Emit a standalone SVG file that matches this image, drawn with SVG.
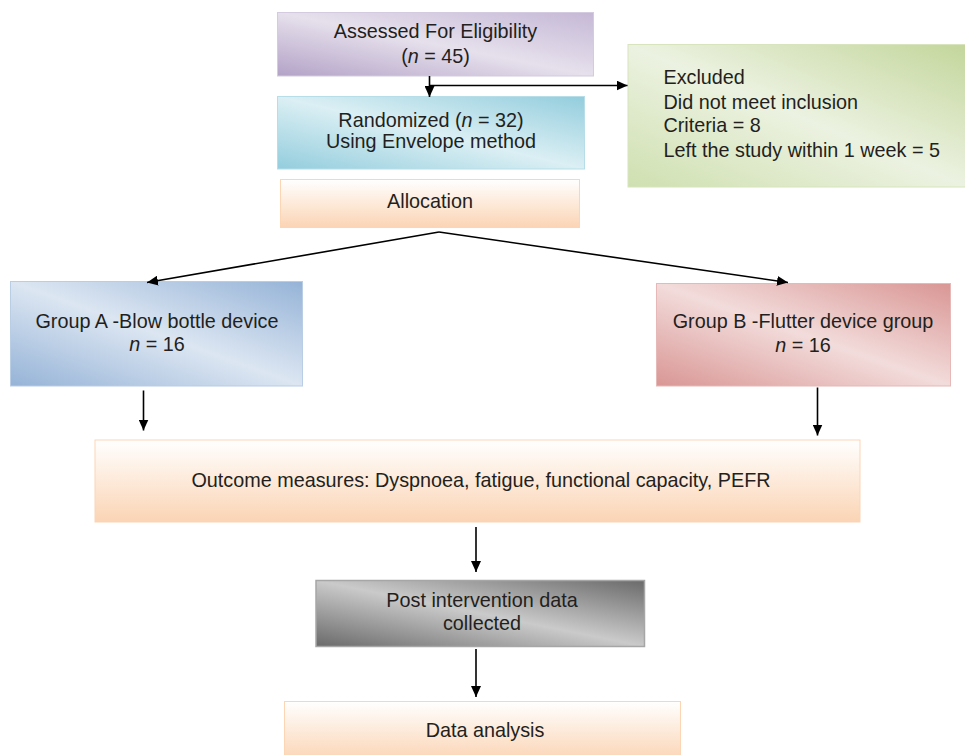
<svg xmlns="http://www.w3.org/2000/svg" width="965" height="755" viewBox="0 0 965 755">
<style>
text{font-family:"Liberation Sans",Arial,sans-serif;font-size:19.8px;fill:#231f20;text-anchor:middle}
.l{text-anchor:start}
.c{fill:none;stroke:#000;stroke-width:1.6}
</style>
<defs>
<marker id="ah" markerUnits="userSpaceOnUse" markerWidth="12" markerHeight="10" refX="11" refY="5" orient="auto">
<path d="M0,0 L11,5 L0,10 z" fill="#000"/>
</marker>
<linearGradient id="gP" x1="0" y1="1" x2="1" y2="0"><stop offset="0" stop-color="#b3a2c7"/><stop offset="0.5" stop-color="#e6e0ec"/><stop offset="1" stop-color="#c5b8d6"/></linearGradient>
<linearGradient id="gT" x1="0" y1="1" x2="1" y2="0"><stop offset="0" stop-color="#93cddd"/><stop offset="0.5" stop-color="#dbeff4"/><stop offset="1" stop-color="#93cddd"/></linearGradient>
<linearGradient id="gG" x1="0" y1="1" x2="1" y2="0"><stop offset="0" stop-color="#cfe0b0"/><stop offset="0.5" stop-color="#ecf2e1"/><stop offset="1" stop-color="#c3d69b"/></linearGradient>
<linearGradient id="gB" x1="0" y1="1" x2="1" y2="0"><stop offset="0" stop-color="#95b3d7"/><stop offset="0.5" stop-color="#dce6f2"/><stop offset="1" stop-color="#95b3d7"/></linearGradient>
<linearGradient id="gR" x1="0" y1="1" x2="1" y2="0"><stop offset="0" stop-color="#d99694"/><stop offset="0.5" stop-color="#f2dcdb"/><stop offset="1" stop-color="#d99694"/></linearGradient>
<linearGradient id="gK" x1="0" y1="1" x2="1" y2="0"><stop offset="0" stop-color="#6a6a6a"/><stop offset="0.5" stop-color="#cacaca"/><stop offset="1" stop-color="#6a6a6a"/></linearGradient>
<linearGradient id="gO" x1="0" y1="0" x2="0" y2="1"><stop offset="0" stop-color="#ffffff"/><stop offset="1" stop-color="#fbd4b4"/></linearGradient>
</defs>
<rect width="965" height="755" fill="#fff"/>

<g id="assessed">
<rect x="277.5" y="12.5" width="316" height="63.5" fill="url(#gP)" stroke="#d4cbe0" stroke-width="1"/>
<text x="435.5" y="37.7">Assessed For Eligibility</text>
<text x="435.5" y="63.3">(<tspan font-style="italic">n</tspan> = 45)</text>
</g>
<g id="randomized">
<rect x="277.5" y="96.5" width="307" height="72.5" fill="url(#gT)" stroke="#b7dee8" stroke-width="1"/>
<text x="431" y="126.7">Randomized (<tspan font-style="italic">n</tspan> = 32)</text>
<text x="431" y="148.3">Using Envelope method</text>
</g>
<g id="allocation">
<rect x="280.5" y="179.5" width="299" height="48" fill="url(#gO)" stroke="#fcd5b5" stroke-width="1"/>
<text x="430" y="208.3">Allocation</text>
</g>
<g id="excluded">
<rect x="628" y="44.5" width="340" height="142.5" fill="url(#gG)" stroke="#d7e4bd" stroke-width="1"/>
<text class="l" x="663.5" y="84.3">Excluded</text>
<text class="l" x="663.5" y="108.6">Did not meet inclusion</text>
<text class="l" x="663.5" y="132.4">Criteria = 8</text>
<text class="l" x="663.5" y="156.7">Left the study within 1 week = 5</text>
</g>
<g id="groupA">
<rect x="10.5" y="281.5" width="292" height="104.5" fill="url(#gB)" stroke="#b9cde5" stroke-width="1"/>
<text x="157" y="328.3">Group A -Blow bottle device</text>
<text x="157" y="350.7"><tspan font-style="italic">n</tspan> = 16</text>
</g>
<g id="groupB">
<rect x="656.5" y="283.5" width="294" height="102.5" fill="url(#gR)" stroke="#e6b9b8" stroke-width="1"/>
<text x="803" y="328.3">Group B -Flutter device group</text>
<text x="803" y="351.7"><tspan font-style="italic">n</tspan> = 16</text>
</g>
<g id="outcome">
<rect x="95" y="440" width="765" height="82" fill="url(#gO)" stroke="#fcd5b5" stroke-width="1"/>
<text x="481" y="486.7">Outcome measures: Dyspnoea, fatigue, functional capacity, PEFR</text>
</g>
<g id="post">
<rect x="316" y="580.5" width="328.5" height="66" fill="url(#gK)" stroke="#a6a6a6" stroke-width="1.5"/>
<text x="482" y="606.7">Post intervention data</text>
<text x="482" y="630">collected</text>
</g>
<g id="analysis">
<rect x="284.5" y="701.5" width="396" height="60" fill="url(#gO)" stroke="#fcd5b5" stroke-width="1"/>
<text x="485" y="736.7">Data analysis</text>
</g>

<g id="connectors">
<line class="c" x1="429.5" y1="76" x2="429.5" y2="97" marker-end="url(#ah)"/>
<line class="c" x1="429.5" y1="85.5" x2="627.5" y2="85.5" marker-end="url(#ah)"/>
<line class="c" x1="439" y1="232" x2="147" y2="282.5" marker-end="url(#ah)"/>
<line class="c" x1="439" y1="232" x2="788" y2="282.5" marker-end="url(#ah)"/>
<line class="c" x1="143.5" y1="390.5" x2="143.5" y2="430.5" marker-end="url(#ah)"/>
<line class="c" x1="817.5" y1="387.5" x2="817.5" y2="435.5" marker-end="url(#ah)"/>
<line class="c" x1="476" y1="527" x2="476" y2="572" marker-end="url(#ah)"/>
<line class="c" x1="476" y1="649" x2="476" y2="697" marker-end="url(#ah)"/>
</g>
</svg>
